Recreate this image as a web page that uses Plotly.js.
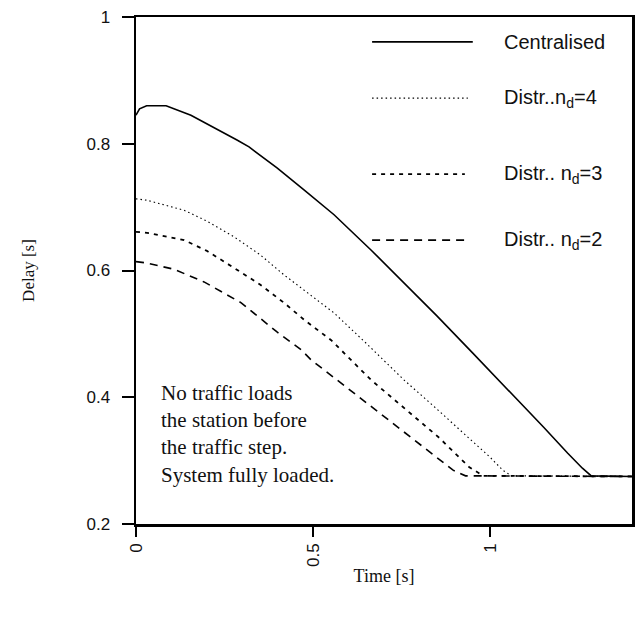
<!DOCTYPE html>
<html>
<head>
<meta charset="utf-8">
<script src="https://cdn.plot.ly/plotly-3.0.1.min.js"></script>
<style>html,body{margin:0;padding:0;background:#fff;}#chart{width:641px;height:626px;}</style>
</head>
<body>
<div id="chart"></div>
<script>
// Series data
const centralisedX = [0, 0.01, 0.03, 0.085, 0.155, 0.22, 0.285, 0.319, 0.398, 0.475, 0.559, 0.664, 0.85, 0.95, 1.05, 1.15, 1.218, 1.26, 1.285, 1.4];
const centralisedY = [0.845, 0.855, 0.86, 0.86, 0.845, 0.826, 0.806, 0.795, 0.762, 0.727, 0.688, 0.632, 0.528, 0.47, 0.412, 0.353, 0.312, 0.288, 0.276, 0.275];

const distr4X = [0, 0.03, 0.136, 0.2, 0.277, 0.35, 0.418, 0.475, 0.559, 0.65, 0.757, 0.842, 1.0, 1.035, 1.06, 1.4];
const distr4Y = [0.713, 0.711, 0.695, 0.678, 0.653, 0.625, 0.593, 0.569, 0.533, 0.485, 0.427, 0.385, 0.305, 0.285, 0.276, 0.275];

const distr3X = [0, 0.037, 0.136, 0.2, 0.277, 0.35, 0.418, 0.475, 0.551, 0.664, 0.856, 0.94, 0.98, 1.4];
const distr3Y = [0.661, 0.659, 0.648, 0.631, 0.604, 0.578, 0.549, 0.522, 0.490, 0.427, 0.336, 0.29, 0.276, 0.275];

const distr2X = [0, 0.028, 0.107, 0.192, 0.297, 0.398, 0.466, 0.494, 0.568, 0.856, 0.895, 0.93, 1.4];
const distr2Y = [0.614, 0.612, 0.602, 0.582, 0.549, 0.503, 0.475, 0.459, 0.427, 0.301, 0.285, 0.276, 0.275];

const seriesNames = ["Centralised", "Distr..n<sub>d</sub>=4", "Distr.. n<sub>d</sub>=3", "Distr.. n<sub>d</sub>=2"];
const xTickVals = [0, 0.5, 1];
const xTickText = ["0", "0.5", "1"];
const yTickVals = [0.2, 0.4, 0.6, 0.8, 1];
const yTickText = ["0.2", "0.4", "0.6", "0.8", "1"];
const noteLines = ["No traffic loads", "the station before", "the traffic step.", "System fully loaded."];

const dashes = ["solid", "1.5px,3px", "4px,5px", "8px,6px"];
const widths = [1.6, 1.1, 1.8, 1.6];
const xs = [centralisedX, distr4X, distr3X, distr2X];
const ys = [centralisedY, distr4Y, distr3Y, distr2Y];

const traces = xs.map((x, i) => ({
  x: x, y: ys[i], type: "scatter", mode: "lines", name: seriesNames[i],
  line: {color: "#000", width: widths[i], dash: dashes[i], shape: "linear"},
  showlegend: false, hoverinfo: "skip"
}));

// Custom legend (line samples + labels) in paper coordinates
const legendY = [0.951, 0.840, 0.690, 0.560];
const legendX0 = 0.476, legendX1 = [0.679, 0.669, 0.663, 0.663];
const shapes = legendY.map((y, i) => ({
  type: "line", xref: "paper", yref: "paper", x0: legendX0, x1: legendX1[i], y0: y, y1: y,
  line: {color: "#000", width: widths[i], dash: dashes[i]}
}));
const annotations = legendY.map((y, i) => ({
  xref: "paper", yref: "paper", x: 0.738, y: y, xanchor: "left", yanchor: "middle",
  text: seriesNames[i], showarrow: false,
  font: {family: "Liberation Sans", size: 20, color: "#111"}
}));
const noteY = [0.258, 0.205, 0.152, 0.097];
noteLines.forEach((t, i) => annotations.push({
  xref: "paper", yref: "paper", x: 0.046, y: noteY[i], xanchor: "left", yanchor: "middle",
  text: t, showarrow: false, font: {family: "Liberation Serif", size: 21, color: "#111"}
}));

const layout = {
  width: 641, height: 626,
  margin: {l: 136, r: 9, t: 17, b: 102},
  paper_bgcolor: "#fff", plot_bgcolor: "#fff",
  xaxis: {
    range: [0, 1.4], tickvals: xTickVals, ticktext: xTickText, tickangle: -90,
    ticks: "outside", ticklen: 10, tickwidth: 2, tickcolor: "#000",
    showline: true, linewidth: 2.5, linecolor: "#000", mirror: true,
    showgrid: false, zeroline: false, ticklabelstandoff: 0,
    tickfont: {family: "Liberation Sans", size: 17, color: "#111"},
    title: {text: "Time [s]", standoff: 4, font: {family: "Liberation Serif", size: 18, color: "#111"}}
  },
  yaxis: {
    range: [0.2, 1.0], tickvals: yTickVals, ticktext: yTickText,
    ticks: "outside", ticklen: 12, tickwidth: 2, tickcolor: "#000",
    showline: true, linewidth: 2.5, linecolor: "#000", mirror: true,
    showgrid: false, zeroline: false, ticklabelstandoff: 8,
    tickfont: {family: "Liberation Sans", size: 17, color: "#111"},
    title: {text: "Delay [s]", standoff: 48, font: {family: "Liberation Serif", size: 17, color: "#111"}}
  },
  shapes: shapes,
  annotations: annotations
};

Plotly.newPlot("chart", traces, layout, {staticPlot: true, displayModeBar: false});
</script>
</body>
</html>
